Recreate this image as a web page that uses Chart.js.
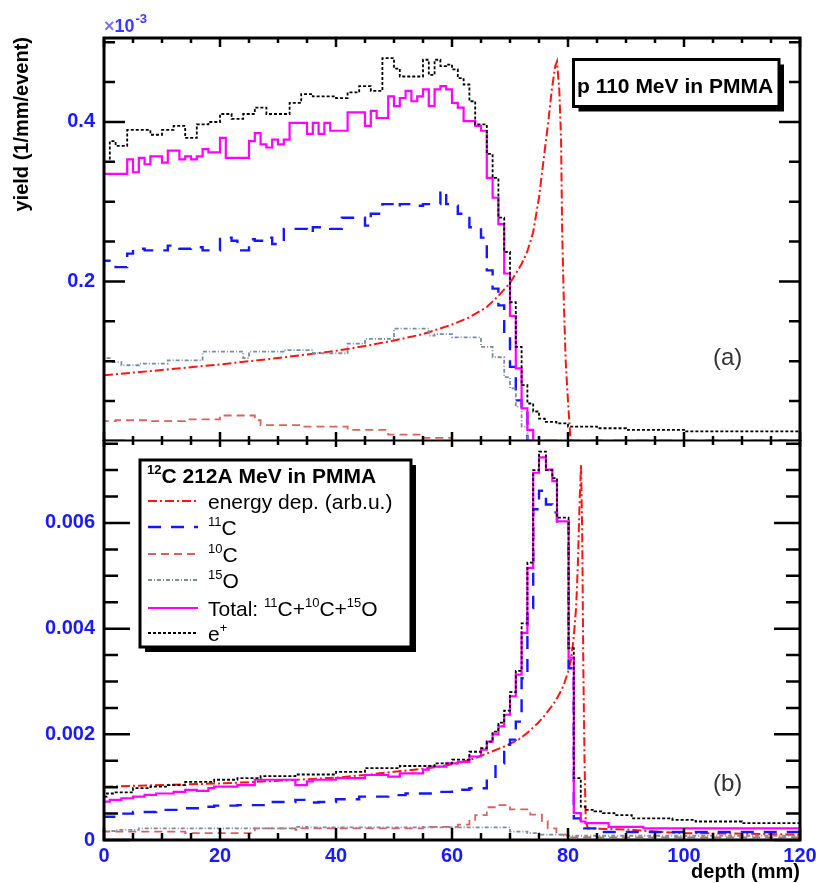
<!DOCTYPE html>
<html>
<head>
<meta charset="utf-8">
<script src="https://cdn.jsdelivr.net/npm/chart.js@4.4.1/dist/chart.umd.min.js"></script>
<style>
  html, body { margin: 0; padding: 0; background: #fff; }
  #wrap { position: relative; width: 816px; height: 883px; overflow: hidden; background: #fff; }
  #topChart { position: absolute; left: 0; top: 0; width: 816px; height: 441px; }
  #bottomChart { position: absolute; left: 0; top: 440px; width: 816px; height: 443px; }
</style>
</head>
<body>
<div id="wrap">
  <canvas id="topChart" width="816" height="441"></canvas>
  <canvas id="bottomChart" width="816" height="443"></canvas>
</div>
<script>
// Axis ticks and labels
const depthTicks = [0, 20, 40, 60, 80, 100, 120];
const depthTickLabels = ['0', '20', '40', '60', '80', '100', '120'];
const topYieldTicks = [0.2, 0.4];
const topYieldTickLabels = ['0.2', '0.4'];
const bottomYieldTicks = [0, 0.002, 0.004, 0.006];
const bottomYieldTickLabels = ['0', '0.002', '0.004', '0.006'];

const legendHeader = '^{12}C 212A MeV in PMMA';
const legendKeys = ['energy', 'c11', 'c10', 'o15', 'total', 'eplus'];
const legendLabels = ['energy dep. (arb.u.)', '^{11}C', '^{10}C', '^{15}O', 'Total: ^{11}C+^{10}C+^{15}O', 'e^{+}'];

// ---- panel (a): p 110 MeV, yields in units of 1e-3 ----
// histograms: depth = bin edges (one more than yields)
const topEnergyDepth = [0, 10, 20, 30, 40, 45, 50, 55, 60, 63, 66, 68, 70, 72, 73, 74, 75, 76, 76.6, 77.2, 77.8, 78.1, 78.5, 78.8, 79.0, 79.3, 79.6, 80.0, 80.4, 80.6];
const topEnergyYield = [0.0825, 0.089, 0.096, 0.104, 0.113, 0.119, 0.126, 0.134, 0.146, 0.155, 0.168, 0.182, 0.198, 0.222, 0.238, 0.262, 0.305, 0.365, 0.400, 0.440, 0.470, 0.476, 0.440, 0.380, 0.260, 0.170, 0.100, 0.050, 0.005, 0];

const topC11Depth = [0, 2, 4, 5, 7, 11, 13, 15, 17, 18, 20, 22, 23, 25, 26, 28, 29, 31, 35, 36, 39, 41, 45, 46, 48, 50, 51, 53, 55, 58, 59, 60, 61, 63, 65, 66, 67, 68, 69, 70, 71, 72, 73, 74, 120];
const topC11Yield = [0.218, 0.226, 0.218, 0.235, 0.241, 0.239, 0.245, 0.241, 0.243, 0.239, 0.239, 0.255, 0.251, 0.239, 0.253, 0.251, 0.255, 0.247, 0.266, 0.261, 0.268, 0.266, 0.280, 0.270, 0.285, 0.297, 0.293, 0.297, 0.295, 0.297, 0.314, 0.297, 0.295, 0.285, 0.268, 0.255, 0.214, 0.191, 0.170, 0.135, 0.093, 0.051, 0.039, 0];

const topC10Depth = [0, 2, 8, 14, 20, 26, 27, 34, 42, 49, 55, 60, 65, 120];
const topC10Yield = [0.029, 0.025, 0.026, 0.025, 0.027, 0.032, 0.026, 0.020, 0.018, 0.014, 0.008, 0.004, 0];

const topO15Depth = [0, 1, 3, 6, 11, 17, 24, 25, 31, 36, 42, 45, 50, 56, 57, 60, 65, 67, 69, 70, 71, 72, 73, 74, 120];
const topO15Yield = [0.096, 0.104, 0.099, 0.095, 0.097, 0.101, 0.112, 0.104, 0.112, 0.114, 0.110, 0.122, 0.128, 0.141, 0.132, 0.134, 0.130, 0.118, 0.105, 0.080, 0.066, 0.043, 0.018, 0];

const topTotalDepth = [0, 4, 5, 6, 7, 8, 10, 11, 13, 14, 15, 16, 17, 18, 20, 21, 25, 26, 27, 28, 29, 30, 31, 32, 35, 36, 37, 38, 39, 42, 45, 46, 47, 49, 50, 51, 52, 53, 54, 55, 56, 57, 58, 59, 60, 61, 62, 64, 65, 66, 67, 68, 69, 70, 71, 72, 73, 74, 75, 120];
const topTotalYield = [0.345, 0.335, 0.353, 0.337, 0.355, 0.347, 0.357, 0.349, 0.364, 0.353, 0.357, 0.353, 0.357, 0.366, 0.362, 0.380, 0.355, 0.376, 0.386, 0.372, 0.368, 0.378, 0.372, 0.378, 0.399, 0.385, 0.399, 0.385, 0.399, 0.389, 0.412, 0.395, 0.414, 0.405, 0.432, 0.420, 0.430, 0.439, 0.426, 0.432, 0.441, 0.420, 0.441, 0.445, 0.441, 0.424, 0.418, 0.401, 0.395, 0.389, 0.330, 0.305, 0.272, 0.210, 0.157, 0.091, 0.041, 0.014, 0];

const topEplusDepth = [0, 1, 2, 4, 6, 8, 10, 12, 14, 16, 18, 20, 22, 24, 26, 28, 30, 32, 34, 36, 38, 40, 42, 44, 46, 48, 50, 51, 55, 56, 57, 58, 59, 60, 61, 62, 63, 64, 66, 67, 68, 69, 70, 71, 72, 73, 74, 75, 76, 78, 80, 85, 90, 100, 110, 120];
const topEplusYield = [0.26, 0.35, 0.376, 0.37, 0.39, 0.39, 0.384, 0.39, 0.395, 0.38, 0.397, 0.40, 0.41, 0.404, 0.41, 0.418, 0.41, 0.41, 0.424, 0.435, 0.432, 0.432, 0.43, 0.437, 0.445, 0.439, 0.48, 0.467, 0.457, 0.478, 0.459, 0.478, 0.47, 0.472, 0.466, 0.455, 0.447, 0.426, 0.397, 0.36, 0.33, 0.28, 0.237, 0.174, 0.118, 0.07, 0.047, 0.037, 0.028, 0.024, 0.022, 0.018, 0.016, 0.014, 0.012];

// ---- panel (b): 12C 212A MeV ----
const bottomEnergyDepth = [0, 10, 20, 30, 40, 45, 50, 55, 58, 62, 64, 67, 69, 71.5, 73, 74.7, 76, 77.6, 78.6, 79.3, 80, 80.5, 81, 81.4, 81.7, 82.0, 82.25, 82.45, 82.65, 82.85, 83.05, 83.4, 90, 95, 100, 110, 120];
const bottomEnergyYield = [0.00101, 0.00104, 0.00107, 0.00112, 0.00118, 0.00123, 0.00129, 0.00135, 0.00139, 0.00148, 0.00155, 0.00168, 0.00177, 0.0019, 0.00203, 0.0022, 0.00236, 0.00259, 0.00278, 0.00294, 0.00318, 0.0034, 0.00385, 0.0044, 0.0052, 0.0064, 0.0071, 0.0058, 0.0032, 0.0015, 0.0004, 0.00022, 0.0002, 0.00016, 0.00013, 0.00012, 0.0001];

const bottomC11Depth = [0, 3, 5, 9, 14, 17, 19, 23, 28, 33, 35, 37, 40, 44, 49, 52, 57, 60, 63, 66, 67.5, 69, 70, 71, 72, 73, 74, 75, 76.2, 77.3, 78.1, 80.1, 81, 82.2, 82.8, 85, 93, 120];
const bottomC11Yield = [0.00041, 0.00044, 0.0005, 0.00053, 0.00057, 0.0006, 0.00063, 0.00065, 0.00066, 0.00072, 0.00076, 0.00071, 0.00072, 0.00077, 0.00082, 0.00085, 0.00088, 0.00091, 0.00095, 0.00098, 0.00117, 0.00145, 0.0018, 0.0019, 0.00224, 0.00306, 0.00439, 0.00626, 0.00661, 0.00635, 0.0062, 0.00603, 0.00325, 0.00041, 0.00025, 0.00022, 0.00015];

const bottomC10Depth = [0, 14, 26, 33, 34, 55, 61, 63, 64, 66, 68, 70, 73.5, 75.5, 76.5, 78, 80, 82, 120];
const bottomC10Yield = [0.000127, 0.00016, 0.00013, 0.00022, 0.00019, 0.00022, 0.00025, 0.00029, 0.00038, 0.00047, 0.00062, 0.00066, 0.00058, 0.00048, 0.00036, 0.00022, 0.0001, 0.00005];

const bottomO15Depth = [0, 2, 6, 33, 35, 70, 73, 75, 79, 82, 120];
const bottomO15Yield = [0.00014, 0.00017, 0.00019, 0.00022, 0.00025, 0.00024, 0.00016, 0.00013, 0.0001, 0.00008];

const bottomTotalDepth = [0, 1, 3, 5, 7, 9, 12, 14, 16, 18, 19, 23, 26, 33, 35, 36, 40, 45, 49, 51, 55, 56, 59, 61, 63, 65, 66, 67, 68, 69, 70, 71, 72, 73, 74, 75, 76.2, 77.3, 78.1, 80.1, 81, 82.2, 83, 87, 93, 105, 120];
const bottomTotalYield = [0.000695, 0.000727, 0.00076, 0.00079, 0.00082, 0.000853, 0.00088, 0.00091, 0.00095, 0.00093, 0.00098, 0.00101, 0.00104, 0.00114, 0.00104, 0.00111, 0.00114, 0.00117, 0.00123, 0.0012, 0.00126, 0.00133, 0.00139, 0.00145, 0.00148, 0.00158, 0.00171, 0.00186, 0.002, 0.00215, 0.00237, 0.00272, 0.00313, 0.00392, 0.00515, 0.00695, 0.00724, 0.00701, 0.00679, 0.00603, 0.00345, 0.00051, 0.00035, 0.00032, 0.00025, 0.00022];

const bottomEplusDepth = [0, 0.5, 2, 5, 8, 11, 14, 19, 23, 27, 33, 40, 45, 51, 57, 60, 63, 65, 66, 67, 68, 69, 70, 71, 72, 73, 74, 75, 76.2, 77.3, 78.1, 80.1, 81, 82.2, 83, 84.5, 86, 88, 91, 98, 102, 110, 115.5, 120];
const bottomEplusYield = [0.00063, 0.00082, 0.00088, 0.0009, 0.00098, 0.00101, 0.00104, 0.0011, 0.00114, 0.00117, 0.00121, 0.00124, 0.00129, 0.00136, 0.0014, 0.00145, 0.00152, 0.00167, 0.00174, 0.00186, 0.00205, 0.00222, 0.00245, 0.0028, 0.0032, 0.0041, 0.00525, 0.007, 0.00735, 0.007, 0.00685, 0.0061, 0.00363, 0.00117, 0.00063, 0.00057, 0.00054, 0.00051, 0.00047, 0.00041, 0.00038, 0.00035, 0.00032];

// Styles
const fontFamily = '"Liberation Sans", Arial, Helvetica, sans-serif';
const tickBlue = '#1a1aff';
const seriesStyles = {
    energy: { color: '#ff1414', width: 2, dash: [9, 3, 2, 3] },
    c11: { color: '#1616ff', width: 2.4, dash: [13, 10] },
    c10: { color: '#d86262', width: 1.8, dash: [8, 5] },
    o15: { color: '#7a8c9e', width: 1.8, dash: [4, 2, 1, 2] },
    total: { color: '#ff00ff', width: 2.2, dash: [] },
    eplus: { color: '#000000', width: 1.8, dash: [3, 2] }
};

Chart.defaults.font.family = fontFamily;

function histPoints(depth, yields) {
    const pts = yields.map((y, i) => ({ x: depth[i], y: y }));
    pts.push({ x: depth[depth.length - 1], y: yields[yields.length - 1] });
    return pts;
}

function curvePoints(depth, yields) {
    return yields.map((y, i) => ({ x: depth[i], y: y }));
}

function buildDatasets(panel) {
    // first in list is drawn on top
    const drawOrder = ['eplus', 'total', 'o15', 'c10', 'c11', 'energy'];
    return drawOrder.map(key => {
        const s = seriesStyles[key];
        const src = panel[key];
        const isCurve = key === 'energy';
        return {
            label: key,
            data: isCurve ? curvePoints(src.depth, src.yield) : histPoints(src.depth, src.yield),
            borderColor: s.color,
            borderWidth: s.width,
            borderDash: s.dash,
            stepped: isCurve ? false : 'after',
            tension: 0,
            pointRadius: 0,
            fill: false,
            borderJoinStyle: 'miter',
            borderCapStyle: 'butt'
        };
    });
}

// rich text with ^{..} superscripts
function parseRich(str) {
    const parts = [];
    const re = /\^\{([^}]*)\}/g;
    let last = 0, m;
    while ((m = re.exec(str)) !== null) {
        if (m.index > last) parts.push({ t: str.slice(last, m.index), sup: false });
        parts.push({ t: m[1], sup: true });
        last = re.lastIndex;
    }
    if (last < str.length) parts.push({ t: str.slice(last), sup: false });
    return parts;
}

function drawRich(ctx, str, x, y, size, weight, color) {
    let cx = x;
    ctx.fillStyle = color;
    ctx.textAlign = 'left';
    ctx.textBaseline = 'alphabetic';
    for (const p of parseRich(str)) {
        const s = p.sup ? Math.round(size * 0.62) : size;
        ctx.font = weight + ' ' + s + 'px ' + fontFamily;
        ctx.fillText(p.t, cx, p.sup ? y - size * 0.42 : y);
        cx += ctx.measureText(p.t).width;
    }
    return cx;
}

// ROOT style box with a drop shadow
function drawPave(ctx, x, y, w, h, shadow) {
    ctx.fillStyle = '#000';
    ctx.fillRect(x + shadow, y + shadow, w, h);
    ctx.fillStyle = '#fff';
    ctx.fillRect(x, y, w, h);
    ctx.strokeStyle = '#000';
    ctx.lineWidth = 3;
    ctx.setLineDash([]);
    ctx.strokeRect(x, y, w, h);
}

// frame with inward tick marks on all four sides
const rootFrame = {
    id: 'rootFrame',
    afterDatasetsDraw(chart, args, opts) {
        const { ctx, chartArea: a } = chart;
        const xs = chart.scales.x, ys = chart.scales.y;
        ctx.save();
        ctx.setLineDash([]);
        ctx.strokeStyle = '#000';
        ctx.lineWidth = 2.5;
        ctx.beginPath();
        for (let i = 0; i * opts.xStep <= xs.max + 1e-9; i++) {
            const px = xs.getPixelForValue(i * opts.xStep);
            const major = i % opts.xPerMajor === 0;
            const lb = major ? opts.xBottomMajor : opts.xBottomMinor;
            const lt = major ? opts.xTopMajor : opts.xTopMinor;
            ctx.moveTo(px, a.bottom); ctx.lineTo(px, a.bottom - lb);
            ctx.moveTo(px, a.top); ctx.lineTo(px, a.top + lt);
        }
        for (let i = 0; i * opts.yStep <= ys.max + 1e-12; i++) {
            const py = ys.getPixelForValue(i * opts.yStep);
            const len = i % opts.yPerMajor === 0 ? opts.yMajor : opts.yMinor;
            ctx.moveTo(a.left, py); ctx.lineTo(a.left + len, py);
            ctx.moveTo(a.right, py); ctx.lineTo(a.right - len, py);
        }
        ctx.stroke();
        ctx.lineWidth = 3;
        ctx.strokeRect(a.left, a.top, a.right - a.left, a.bottom - a.top);
        ctx.restore();
    }
};

function yScale(max, ticks, labels) {
    return {
        type: 'linear',
        min: 0,
        max: max,
        grid: { display: false, drawTicks: false },
        border: { display: false },
        ticks: {
            color: tickBlue,
            padding: 9,
            autoSkip: false,
            font: { size: 20, weight: 'bold' },
            callback: (v) => labels[ticks.indexOf(v)]
        },
        afterBuildTicks: (s) => { s.ticks = ticks.map(v => ({ value: v })); },
        afterFit: (s) => { s.width = 104; s.paddingTop = 0; s.paddingBottom = 0; }
    };
}

function xScale(showLabels) {
    return {
        type: 'linear',
        min: 0,
        max: 120,
        grid: { display: false, drawTicks: false },
        border: { display: false },
        ticks: {
            display: showLabels,
            color: tickBlue,
            padding: 4,
            autoSkip: false,
            maxRotation: 0,
            minRotation: 0,
            font: { size: 20, weight: 'bold' },
            callback: (v) => depthTickLabels[depthTicks.indexOf(v)]
        },
        afterBuildTicks: (s) => { s.ticks = depthTicks.map(v => ({ value: v })); },
        afterFit: (s) => { s.height = showLabels ? 43 : 0; s.paddingLeft = 0; s.paddingRight = 0; }
    };
}

const topDecor = {
    id: 'topDecor',
    afterDraw(chart) {
        const ctx = chart.ctx;
        ctx.save();
        // x10^-3 multiplier
        ctx.font = 'bold 18px ' + fontFamily;
        ctx.fillStyle = '#7d70ff';
        ctx.fillText('\u00d7', 104, 32);
        const wx = ctx.measureText('\u00d7').width;
        ctx.fillStyle = '#3a3aff';
        ctx.fillText('10', 104 + wx, 32);
        const w10 = ctx.measureText('10').width;
        ctx.font = 'bold 13px ' + fontFamily;
        ctx.fillText('-3', 104 + wx + w10 + 1, 23);
        // y axis title
        ctx.save();
        ctx.translate(28, 37);
        ctx.rotate(-Math.PI / 2);
        ctx.font = 'bold 20px ' + fontFamily;
        ctx.fillStyle = '#000';
        ctx.textAlign = 'right';
        ctx.fillText('yield (1/mm/event)', 0, 0);
        ctx.restore();
        // title box
        drawPave(ctx, 573.5, 59.5, 205.5, 47, 5);
        drawRich(ctx, 'p 110 MeV in PMMA', 577, 93, 21, 'bold', '#000');
        // panel tag
        ctx.font = '24px ' + fontFamily;
        ctx.fillStyle = '#333';
        ctx.fillText('(a)', 713, 365);
        ctx.restore();
    }
};

const bottomDecor = {
    id: 'bottomDecor',
    afterDraw(chart) {
        const ctx = chart.ctx;
        const off = 440;
        ctx.save();
        // legend
        drawPave(ctx, 140, 460 - off, 271, 187, 5);
        drawRich(ctx, legendHeader, 147, 483 - off, 21, 'bold', '#000');
        const lineY = [501, 527, 554, 580, 608, 633];
        legendKeys.forEach((key, i) => {
            const ds = chart.data.datasets.find(d => d.label === key);
            ctx.save();
            ctx.strokeStyle = ds.borderColor;
            ctx.lineWidth = ds.borderWidth;
            ctx.setLineDash(ds.borderDash);
            ctx.beginPath();
            ctx.moveTo(148, lineY[i] - off);
            ctx.lineTo(198, lineY[i] - off);
            ctx.stroke();
            ctx.restore();
            drawRich(ctx, legendLabels[i], 208, lineY[i] + 8 - off, 21, 'normal', '#000');
        });
        // panel tag
        ctx.font = '24px ' + fontFamily;
        ctx.fillStyle = '#333';
        ctx.textAlign = 'left';
        ctx.fillText('(b)', 713, 791 - off);
        // x axis title
        ctx.font = 'bold 20px ' + fontFamily;
        ctx.fillStyle = '#000';
        ctx.textAlign = 'right';
        ctx.fillText('depth (mm)', 800, 878 - off);
        ctx.restore();
    }
};

const topPanel = {
    energy: { depth: topEnergyDepth, yield: topEnergyYield },
    c11: { depth: topC11Depth, yield: topC11Yield },
    c10: { depth: topC10Depth, yield: topC10Yield },
    o15: { depth: topO15Depth, yield: topO15Yield },
    total: { depth: topTotalDepth, yield: topTotalYield },
    eplus: { depth: topEplusDepth, yield: topEplusYield }
};

const bottomPanel = {
    energy: { depth: bottomEnergyDepth, yield: bottomEnergyYield },
    c11: { depth: bottomC11Depth, yield: bottomC11Yield },
    c10: { depth: bottomC10Depth, yield: bottomC10Yield },
    o15: { depth: bottomO15Depth, yield: bottomO15Yield },
    total: { depth: bottomTotalDepth, yield: bottomTotalYield },
    eplus: { depth: bottomEplusDepth, yield: bottomEplusYield }
};

function baseOptions(padding, frameOpts) {
    return {
        responsive: false,
        animation: false,
        events: [],
        devicePixelRatio: 1,
        layout: { padding: padding },
        plugins: {
            legend: { display: false },
            tooltip: { enabled: false },
            rootFrame: frameOpts
        }
    };
}

const topOptions = baseOptions({ top: 38, right: 16, left: 0, bottom: 0 }, {
    xStep: 5, xPerMajor: 4, xBottomMajor: 9, xBottomMinor: 5, xTopMajor: 9, xTopMinor: 5,
    yStep: 0.05, yPerMajor: 4, yMajor: 21, yMinor: 11
});
topOptions.scales = { x: xScale(false), y: yScale(0.5053, topYieldTicks, topYieldTickLabels) };

const bottomOptions = baseOptions({ top: 0, right: 16, left: 0, bottom: 0 }, {
    xStep: 5, xPerMajor: 4, xBottomMajor: 12, xBottomMinor: 7, xTopMajor: 7, xTopMinor: 5,
    yStep: 0.0005, yPerMajor: 4, yMajor: 26, yMinor: 14
});
bottomOptions.scales = { x: xScale(true), y: yScale(0.00757, bottomYieldTicks, bottomYieldTickLabels) };

new Chart(document.getElementById('topChart').getContext('2d'), {
    type: 'line',
    data: { datasets: buildDatasets(topPanel) },
    options: topOptions,
    plugins: [rootFrame, topDecor]
});

new Chart(document.getElementById('bottomChart').getContext('2d'), {
    type: 'line',
    data: { datasets: buildDatasets(bottomPanel) },
    options: bottomOptions,
    plugins: [rootFrame, bottomDecor]
});
</script>
</body>
</html>
